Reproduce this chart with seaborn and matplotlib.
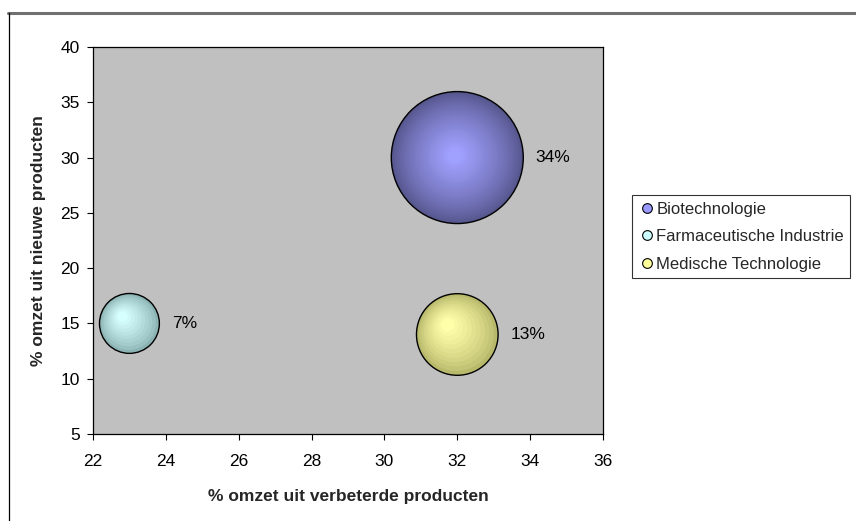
import numpy as np
import pandas as pd
import matplotlib
matplotlib.use("Agg")
import matplotlib.pyplot as plt
import matplotlib.transforms as mtransforms
from matplotlib.lines import Line2D
from matplotlib.colors import to_rgb
import seaborn as sns

# --- data -------------------------------------------------------------
sectors = ["Biotechnologie", "Farmaceutische Industrie", "Medische Technologie"]
improved_pct = [32, 23, 32]      # % omzet uit verbeterde producten
new_pct = [30, 15, 14]           # % omzet uit nieuwe producten
share_pct = [34, 7, 13]          # bubble size / label value
x_ticks = [22, 24, 26, 28, 30, 32, 34, 36]
y_ticks = [5, 10, 15, 20, 25, 30, 35, 40]

# --- styling ----------------------------------------------------------
legend_colors = ["#9999FF", "#CCFFFF", "#FFFF99"]
rim_colors = ["#55558C", "#8DB4B4", "#B9B96C"]
core_colors = ["#A0A0FF", "#D6FFFF", "#FFFFAA"]
highlight_shift = [0.04, 0.28, 0.28]
n_layers = [32, 9, 10]
FS = 12.5

sns.set_theme(style="white")
plt.rcParams["font.family"] = ["Liberation Sans", "DejaVu Sans"]

df = pd.DataFrame({"sector": sectors, "x": improved_pct, "y": new_pct,
                   "share": share_pct})

fig = plt.figure(figsize=(8.56, 5.21), dpi=100)
ax = fig.add_axes([93 / 856, 1 - 434 / 521, 510 / 856, 387 / 521])
ax.set_facecolor("#C0C0C0")

max_area = 9030.0  # marker area (pt^2) for the largest share
sns.scatterplot(data=df, x="x", y="y", hue="sector", size="share",
                sizes=(0, max_area), size_norm=(0, max(share_pct)),
                palette=dict(zip(sectors, rim_colors)),
                edgecolor="none", linewidth=0, alpha=1, legend=False,
                ax=ax, zorder=2)

# radial shading: stacked, shrinking discs shifted toward the highlight
for i, row in df.iterrows():
    area = max_area * row["share"] / max(share_pct)
    r_pt = np.sqrt(area) / 2
    rim = np.array(to_rgb(rim_colors[i]))
    core = np.array(to_rgb(core_colors[i]))
    n = n_layers[i]
    for k in range(n):
        f = 1 - (k + 1) / (n + 1) * 0.92
        t = (k + 1) / n
        col = rim + (core - rim) * (t ** 0.8)
        shift = (1 - f) * r_pt * highlight_shift[i]
        tr = ax.transData + mtransforms.ScaledTranslation(
            -shift / 72, shift / 72, fig.dpi_scale_trans)
        ax.scatter([row["x"]], [row["y"]], s=(2 * r_pt * f) ** 2,
                   color=col, edgecolor="none", transform=tr, zorder=3)
    ax.scatter([row["x"]], [row["y"]], s=area, facecolor="none",
               edgecolor="black", linewidth=1.0, zorder=4)
    ax.annotate(f"{row['share']}%", (row["x"], row["y"]),
                xytext=(r_pt + 9, 0), textcoords="offset points",
                ha="left", va="center", fontsize=FS, color="black")

ax.set_xlim(x_ticks[0], x_ticks[-1])
ax.set_ylim(y_ticks[0], y_ticks[-1])
ax.set_xticks(x_ticks)
ax.set_yticks(y_ticks)
ax.tick_params(axis="both", direction="out", length=4.5, width=0.8,
               color="black", labelsize=FS, labelcolor="black",
               bottom=True, left=True)
ax.tick_params(axis="x", pad=10)
ax.tick_params(axis="y", pad=5)
for sp in ax.spines.values():
    sp.set_color("black")
    sp.set_linewidth(0.9)

ax.set_xlabel("% omzet uit verbeterde producten", fontsize=FS,
              fontweight="bold", labelpad=14)
ax.set_ylabel("% omzet uit nieuwe producten", fontsize=FS,
              fontweight="bold", labelpad=10)

handles = [Line2D([], [], marker="o", linestyle="none", markersize=7,
                  markerfacecolor=c, markeredgecolor="black",
                  markeredgewidth=0.8) for c in legend_colors]
leg = fig.legend(handles, sectors, loc="upper left",
                 bbox_to_anchor=(632 / 856, 1 - 195 / 521),
                 frameon=True, fontsize=12, handletextpad=0.05,
                 handlelength=1.0, borderpad=0.4, labelspacing=0.75,
                 fancybox=False, borderaxespad=0)
leg.get_frame().set_edgecolor("black")
leg.get_frame().set_linewidth(0.8)

# outer chart frame
fig.add_artist(Line2D([8 / 856, 1], [1 - 13 / 521, 1 - 13 / 521],
                      color="#707070", linewidth=2.2,
                      transform=fig.transFigure))
fig.add_artist(Line2D([8.5 / 856, 8.5 / 856], [0, 1 - 13 / 521],
                      color="black", linewidth=0.9,
                      transform=fig.transFigure))

fig.savefig("out.png", dpi=100, facecolor="white")
